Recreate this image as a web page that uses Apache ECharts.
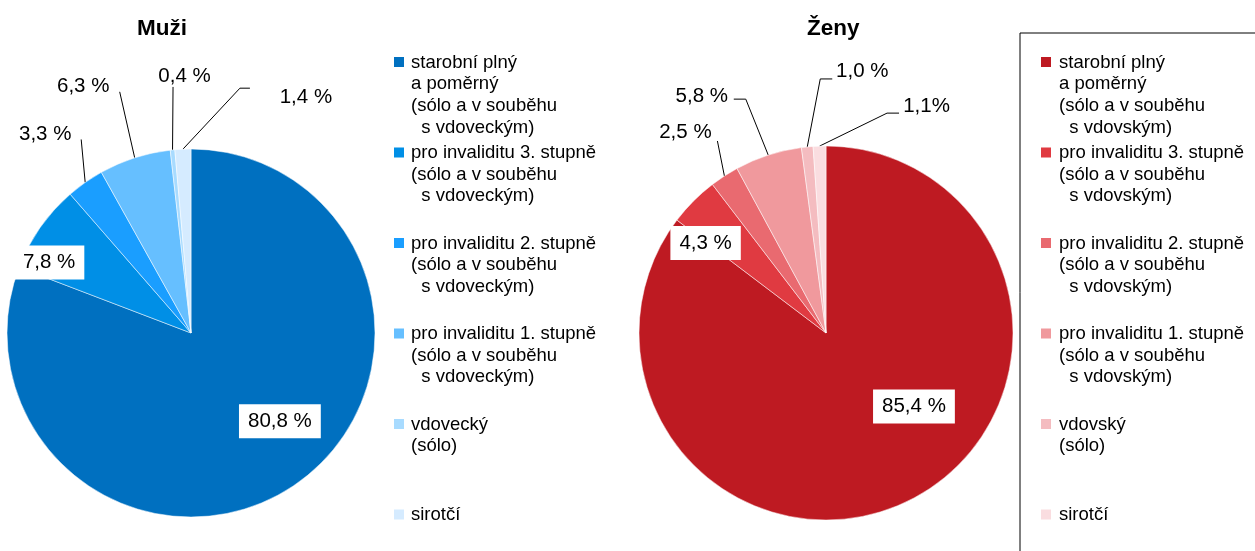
<!DOCTYPE html>
<html>
<head>
<meta charset="utf-8">
<script src="https://cdn.jsdelivr.net/npm/echarts@6/dist/echarts.min.js"></script>
<style>
  body { margin: 0; background: #fff; }
  #chart { width: 1255px; height: 551px; }
</style>
</head>
<body>
<div id="chart"></div>
<script>
// data
const kategorieMuzi = [
  'starobní plný\na poměrný\n(sólo a v souběhu\n  s vdoveckým)',
  'pro invaliditu 3. stupně\n(sólo a v souběhu\n  s vdoveckým)',
  'pro invaliditu 2. stupně\n(sólo a v souběhu\n  s vdoveckým)',
  'pro invaliditu 1. stupně\n(sólo a v souběhu\n  s vdoveckým)',
  'vdovecký\n(sólo)',
  'sirotčí'
];
const kategorieZeny = [
  'starobní plný\na poměrný\n(sólo a v souběhu\n  s vdovským)',
  'pro invaliditu 3. stupně\n(sólo a v souběhu\n  s vdovským)',
  'pro invaliditu 2. stupně\n(sólo a v souběhu\n  s vdovským)',
  'pro invaliditu 1. stupně\n(sólo a v souběhu\n  s vdovským)',
  'vdovský\n(sólo)',
  'sirotčí '
];
const hodnotyMuzi = [80.8, 7.8, 3.3, 6.3, 0.4, 1.4];
const hodnotyZeny = [85.4, 4.3, 2.5, 5.8, 1.0, 1.1];

const barvyMuzi = ['#0070C0', '#008FE6', '#1A9EFF', '#66BFFF', '#A8DBFF', '#D5EBFF'];
const barvyZeny = ['#BE1A22', '#E03A41', '#E96A70', '#F0999D', '#F4BCC0', '#FADDE0'];

const FONT = '"Liberation Sans", Arial, sans-serif';

// label placement: inside ones shifted (dx,dy), outside ones placed from slice edge point
const labelTweak = [
  [
    { dx: 35, dy: 10 },
    { dx: -64, dy: -16 },
    { c: [-40, -48], line: [[36, 5]] },
    { c: [-51.5, -71], line: [[36.5, 5]] },
    { c: [12, -74], line: [[-11.5, 11]] },
    { c: [123, -52], line: [[-66, -9], [-56, -9]] }
  ],
  [
    { dx: 45, dy: -13 },
    { dx: -52, dy: -22 },
    { c: [-39, -44], line: [[32, 9]] },
    { c: [-66.5, -59], line: [[44, 3], [32, 3]] },
    { c: [55, -76], line: [[-42, 8], [-30, 8]] },
    { c: [107, -40], line: [[-39.5, 7], [-27.5, 7]] }
  ]
];

function fmt(p) {
  const s = p.value.toFixed(1).replace('.', ',');
  return (p.seriesIndex === 1 && p.dataIndex === 5) ? s + '%' : s + ' %';
}

function buildData(names, values, colors, insideCount) {
  return values.map(function (v, i) {
    const inside = i < insideCount;
    return {
      name: names[i],
      value: v,
      itemStyle: { color: colors[i] },
      label: inside
        ? { position: 'inside', backgroundColor: '#fff', padding: [6, 9, 5, 9] }
        : { position: 'outside' },
      labelLine: { show: !inside, length: 20, length2: 0 }
    };
  });
}

const chart = echarts.init(document.getElementById('chart'));

function legendOpt(names, left, bordered) {
  return {
    data: names,
    orient: 'vertical',
    left: left,
    top: bordered ? 33 : 51,
    height: 800,
    padding: bordered ? [18, 40, 40, 21] : 0,
    borderColor: bordered ? '#000' : 'transparent',
    borderWidth: bordered ? 1 : 0,
    selectedMode: false,
    itemWidth: 10,
    itemHeight: 88,
    itemGap: 2.5,
    icon: 'path://M0,0L10,0M0,6L10,6L10,16L0,16ZM0,88L10,88',
    itemStyle: { borderWidth: 0 },
    formatter: function (name) {
      const n = name.split('\n').length;
      return name + '\n '.repeat(4 - n);
    },
    textStyle: { fontFamily: FONT, fontSize: 18.5, lineHeight: 21.7, color: '#000', padding: [0, 0, 0, bordered ? 3 : 2] }
  };
}

const pieBase = {
  type: 'pie',
  startAngle: 90,
  clockwise: true,
  avoidLabelOverlap: false,
  silent: true,
  itemStyle: { borderColor: '#fff', borderWidth: 0.5 },
  label: { fontFamily: FONT, fontSize: 20.5, color: '#000', lineHeight: 23, formatter: fmt },
  labelLine: { lineStyle: { color: '#000', width: 1 } },
  labelLayout: function (p) {
    const t = labelTweak[p.seriesIndex][p.dataIndex];
    const r = p.labelRect;
    if (t.dx != null) {
      return { x: r.x + r.width / 2 + t.dx, y: r.y + r.height / 2 + t.dy, align: 'center', verticalAlign: 'middle' };
    }
    const e = p.labelLinePoints[0];
    const cx = e[0] + t.c[0], cy = e[1] + t.c[1];
    return {
      x: cx, y: cy, align: 'center', verticalAlign: 'middle',
      labelLinePoints: [e].concat(t.line.map(function (q) { return [cx + q[0], cy + q[1]]; }))
    };
  }
};

const option = {
  backgroundColor: '#fff',
  animation: false,
  title: [
    { text: 'Muži', left: 137, top: 17, padding: 0, textStyle: { fontFamily: FONT, fontSize: 22.5, fontWeight: 'bold', color: '#000' } },
    { text: 'Ženy', left: 807, top: 17, padding: 0, textStyle: { fontFamily: FONT, fontSize: 22.5, fontWeight: 'bold', color: '#000' } }
  ],
  legend: [
    legendOpt(kategorieMuzi, 394, false),
    legendOpt(kategorieZeny, 1020, true)
  ],
  series: [
    Object.assign({}, pieBase, {
      name: 'Muži',
      center: [191, 333],
      radius: [0, 184],
      data: buildData(kategorieMuzi, hodnotyMuzi, barvyMuzi, 2)
    }),
    Object.assign({}, pieBase, {
      name: 'Ženy',
      center: [826, 333],
      radius: [0, 187],
      data: buildData(kategorieZeny, hodnotyZeny, barvyZeny, 2)
    })
  ]
};

chart.setOption(option);
window.addEventListener('resize', function () { chart.resize(); });
</script>
</body>
</html>
